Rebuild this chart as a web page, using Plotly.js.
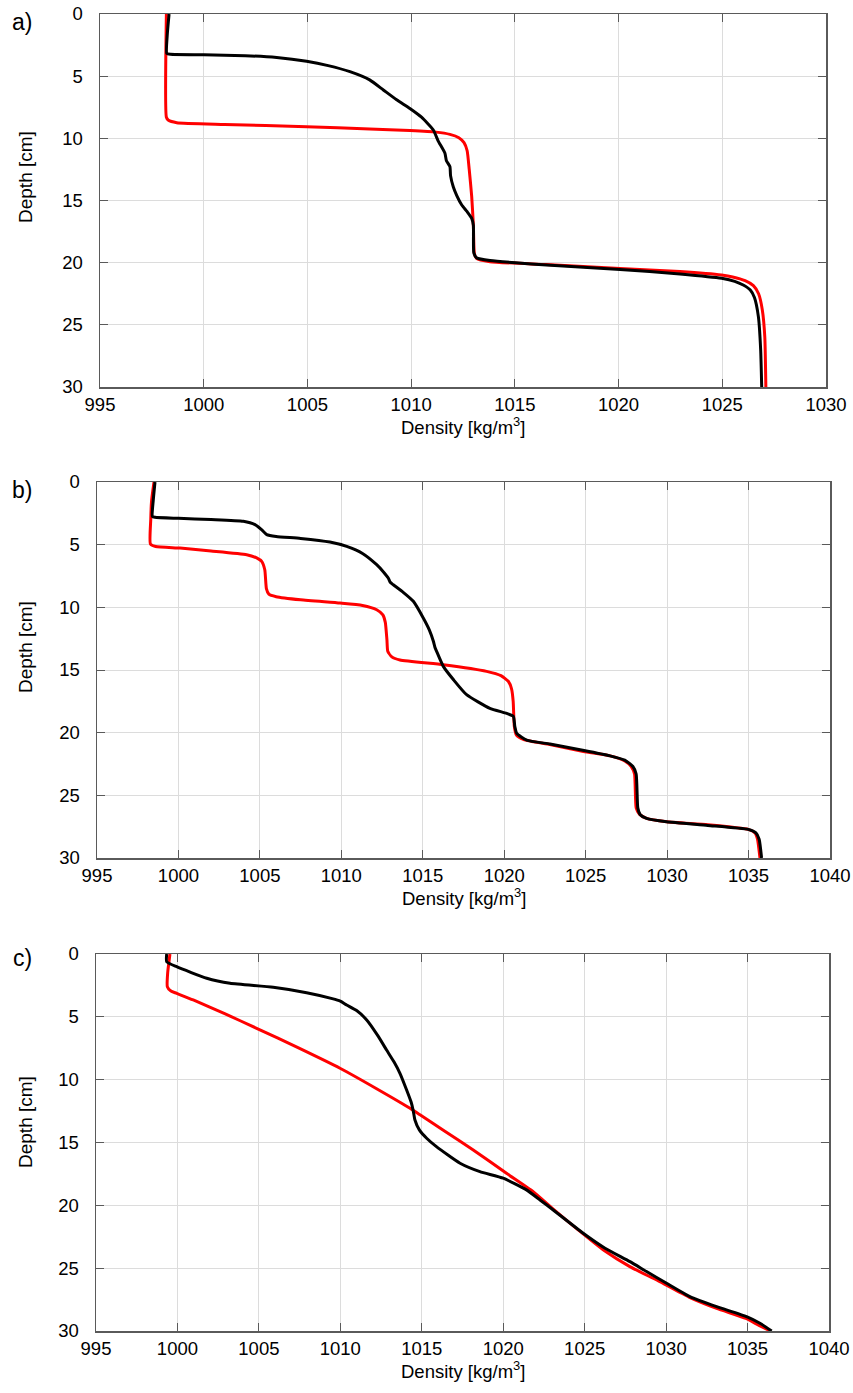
<!DOCTYPE html>
<html>
<head>
<meta charset="utf-8">
<script src="https://cdn.plot.ly/plotly-3.0.1.min.js"></script>
<style>html,body{margin:0;padding:0;background:#fff;}#chart{width:853px;height:1393px;}</style>
</head>
<body>
<div id="chart"></div>
<script>
// ---------- data ----------
var xTicks = [995, 1000, 1005, 1010, 1015, 1020, 1025, 1030, 1035, 1040];
var yTicks = [0, 5, 10, 15, 20, 25, 30];
var panelLabels = ["a)", "b)", "c)"];
var xTitle = "Density [kg/m<sup>3</sup>]";
var yTitle = "Depth [cm]";

// Panel a
var aRedDensity = [998.2,998.2,998.3,998.7,1001,1004.96,1008,1009.94,1011.2,1011.87,1012.3,1012.55,1012.7,1012.8,1012.92,1013.0,1013.05,1013.15,1013.8,1016.5,1020.07,1022.96,1024.97,1025.5,1026.1,1026.5,1026.75,1026.93,1027.05,1027.1];
var aRedDepth   = [0,8.3,8.55,8.74,8.88,9.06,9.25,9.38,9.5,9.68,9.95,10.35,11.0,12.5,14.69,17,19.3,19.65,19.92,20.15,20.46,20.72,21.0,21.15,21.45,21.85,22.5,23.8,26,30];
var aBlackDensity = [998.33,998.25,998.22,998.4,1000,1002,1003.52,1004.96,1006,1007.05,1008,1008.66,1009.3,1009.94,1010.5,1011.07,1011.3,1011.63,1011.7,1011.87,1011.9,1012.03,1012.2,1012.44,1012.7,1012.92,1013.0,1013.02,1013.15,1013.8,1016.53,1020.07,1022.96,1024.97,1025.6,1026.01,1026.35,1026.55,1026.74,1026.85,1026.9];
var aBlackDepth   = [0,1.5,3.16,3.24,3.28,3.35,3.5,3.8,4.15,4.64,5.3,6.11,6.9,7.6,8.3,9.33,10.2,11.2,11.8,12.28,13.0,13.89,14.6,15.36,15.9,16.43,17,19.2,19.6,19.82,20.19,20.54,20.91,21.26,21.5,21.8,22.2,22.8,24.34,27,30];

// Panel b
var bRedDensity = [998.5,998.35,998.3,998.28,998.6,1000.1,1002,1004.19,1004.8,1005.11,1005.3,1005.4,1005.55,1006,1007.5,1009.92,1011.3,1012.17,1012.55,1012.7,1012.8,1012.85,1013.1,1013.6,1016.26,1018.92,1019.8,1020.25,1020.45,1020.55,1020.62,1020.75,1021.2,1022.8,1024.86,1026.5,1027.4,1027.8,1028.0,1028.1,1028.3,1028.74,1029.97,1032.5,1034.98,1035.4,1035.55,1035.7];
var bRedDepth   = [0,1.5,3,4.95,5.15,5.27,5.5,5.8,6.05,6.33,7.0,8.5,8.95,9.15,9.4,9.66,9.85,10.19,10.6,11.2,12.6,13.5,13.95,14.2,14.58,15.11,15.45,15.9,16.5,17.5,19.5,20.2,20.55,20.95,21.5,21.85,22.25,22.7,23.3,26.0,26.5,26.84,27.11,27.35,27.72,28.0,28.5,30];
var bBlackDensity = [998.56,998.45,998.4,998.56,1000,1002,1003.98,1004.7,1005.1,1005.42,1006,1007.5,1009.3,1010.33,1011.3,1012.17,1012.6,1012.88,1013.0,1013.19,1013.8,1014.42,1015.03,1015.4,1015.65,1015.75,1015.85,1016.26,1016.9,1017.69,1019.12,1020.15,1020.56,1020.65,1020.77,1021.38,1022.81,1024.9,1026.5,1027.4,1027.9,1028.1,1028.2,1028.35,1028.74,1029.97,1032.5,1034.98,1035.45,1035.65,1035.8];
var bBlackDepth   = [0,1.5,2.74,2.82,2.9,3.0,3.14,3.4,3.8,4.2,4.35,4.5,4.79,5.14,5.7,6.6,7.2,7.66,8.0,8.2,8.8,9.52,10.85,11.8,12.71,13.2,13.51,14.71,15.8,16.97,18.06,18.46,18.7,19.5,20.06,20.59,20.91,21.42,21.85,22.19,22.7,23.3,26.0,26.55,26.84,27.11,27.4,27.72,28.0,28.5,30];

// Panel c
var cRedDensity = [999.54,999.4,999.38,999.6,999.95,1000.97,1002.9,1004.86,1007.4,1009.98,1012.2,1014.28,1014.89,1016.3,1018.16,1020.2,1021.84,1023.07,1024.6,1026.2,1027.8,1029.5,1031.4,1033.1,1034.9,1035.7,1036.4];
var cRedDepth   = [0,1.5,2.6,2.95,3.13,3.66,4.75,5.91,7.45,9.09,10.7,12.28,12.8,14.0,15.59,17.45,18.91,20.3,21.95,23.6,24.9,26.0,27.3,28.2,29.0,29.55,30];
var cBlackDensity = [999.34,999.34,999.95,1001.8,1003.23,1005.88,1007.93,1009.5,1010.0,1010.39,1011.0,1011.62,1012.3,1012.84,1013.3,1013.66,1014.07,1014.35,1014.48,1014.58,1014.85,1015.3,1015.9,1017.35,1018.57,1020.0,1021.43,1022.26,1023.07,1024.91,1026.25,1027.78,1028.8,1030.03,1031.46,1033.1,1034.94,1035.76,1036.48];
var cBlackDepth   = [0,0.61,1.01,1.93,2.33,2.65,3.08,3.55,3.75,4.06,4.5,5.25,6.5,7.64,8.6,9.49,10.82,11.8,12.5,13.21,14.0,14.66,15.33,16.65,17.32,17.84,18.77,19.57,20.37,22.22,23.41,24.48,25.27,26.2,27.26,28.06,28.85,29.38,30];

var xRanges = [[995, 1030], [995, 1040], [995, 1040]];
var yRange = [30, 0];

// ---------- layout (pixel geometry) ----------
var W = 853, H = 1393;
var boxes = [
  {l: 100, r: 826, t: 14,  b: 387, labY: 22,  yTitleY: 177,  xTitleY: 426},
  {l: 97,  r: 830, t: 482, b: 858, labY: 490, yTitleY: 647,  xTitleY: 897},
  {l: 96,  r: 829, t: 954, b: 1331, labY: 958, yTitleY: 1122, xTitleY: 1370}
];
var FONT = "Liberation Sans, Arial, Helvetica, sans-serif";
var frame = "#5a5a5a", grid = "#dcdcdc";

var series = [
  [aRedDensity, aRedDepth, aBlackDensity, aBlackDepth],
  [bRedDensity, bRedDepth, bBlackDensity, bBlackDepth],
  [cRedDensity, cRedDepth, cBlackDensity, cBlackDepth]
];

var traces = [];
var layout = {
  width: W, height: H,
  margin: {l: 0, r: 0, t: 0, b: 0},
  paper_bgcolor: "#fff", plot_bgcolor: "#fff",
  showlegend: false,
  font: {family: FONT, color: "#000"},
  annotations: []
};

for (var i = 0; i < 3; i++) {
  var sfx = i === 0 ? "" : String(i + 1);
  var bx = boxes[i];
  var s = series[i];
  traces.push({x: s[0], y: s[1], xaxis: "x" + sfx, yaxis: "y" + sfx, type: "scatter", mode: "lines",
               line: {color: "#ff0000", width: 3, shape: "spline", smoothing: 0.5}, hoverinfo: "skip"});
  traces.push({x: s[2], y: s[3], xaxis: "x" + sfx, yaxis: "y" + sfx, type: "scatter", mode: "lines",
               line: {color: "#000000", width: 3, shape: "spline", smoothing: 0.5}, hoverinfo: "skip"});
  var xr = xRanges[i];
  layout["xaxis" + sfx] = {
    domain: [bx.l / W, bx.r / W], anchor: "y" + sfx, range: xr,
    tickvals: xTicks.filter(function (v) { return v >= xr[0] && v <= xr[1]; }),
    ticks: "inside", ticklen: 8, tickwidth: 1, tickcolor: frame, mirror: "ticks",
    showline: true, linecolor: frame, linewidth: 1.5,
    showgrid: true, gridcolor: grid, gridwidth: 1, zeroline: false,
    tickfont: {family: FONT, size: 18.5, color: "#000"}, ticklabelstandoff: 0
  };
  layout["yaxis" + sfx] = {
    domain: [1 - bx.b / H, 1 - bx.t / H], anchor: "x" + sfx, range: yRange,
    tickvals: yTicks,
    ticks: "inside", ticklen: 8, tickwidth: 1, tickcolor: frame, mirror: "ticks",
    showline: true, linecolor: frame, linewidth: 1.5,
    showgrid: true, gridcolor: grid, gridwidth: 1, zeroline: false,
    tickfont: {family: FONT, size: 18.5, color: "#000"}, ticklabelstandoff: 12
  };
  layout.annotations.push({xref: "paper", yref: "paper", x: 22 / W, y: 1 - bx.labY / H,
    text: panelLabels[i], showarrow: false, xanchor: "center", yanchor: "middle",
    font: {family: FONT, size: 23, color: "#000"}});
  layout.annotations.push({xref: "paper", yref: "paper", x: 25 / W, y: 1 - bx.yTitleY / H,
    text: yTitle, textangle: -90, showarrow: false, xanchor: "center", yanchor: "middle",
    font: {family: FONT, size: 19, color: "#000"}});
  layout.annotations.push({xref: "paper", yref: "paper", x: ((bx.l + bx.r) / 2) / W, y: 1 - bx.xTitleY / H,
    text: xTitle, showarrow: false, xanchor: "center", yanchor: "middle",
    font: {family: FONT, size: 18.5, color: "#000"}});
}

Plotly.newPlot("chart", traces, layout, {staticPlot: true, displayModeBar: false});
</script>
</body>
</html>
